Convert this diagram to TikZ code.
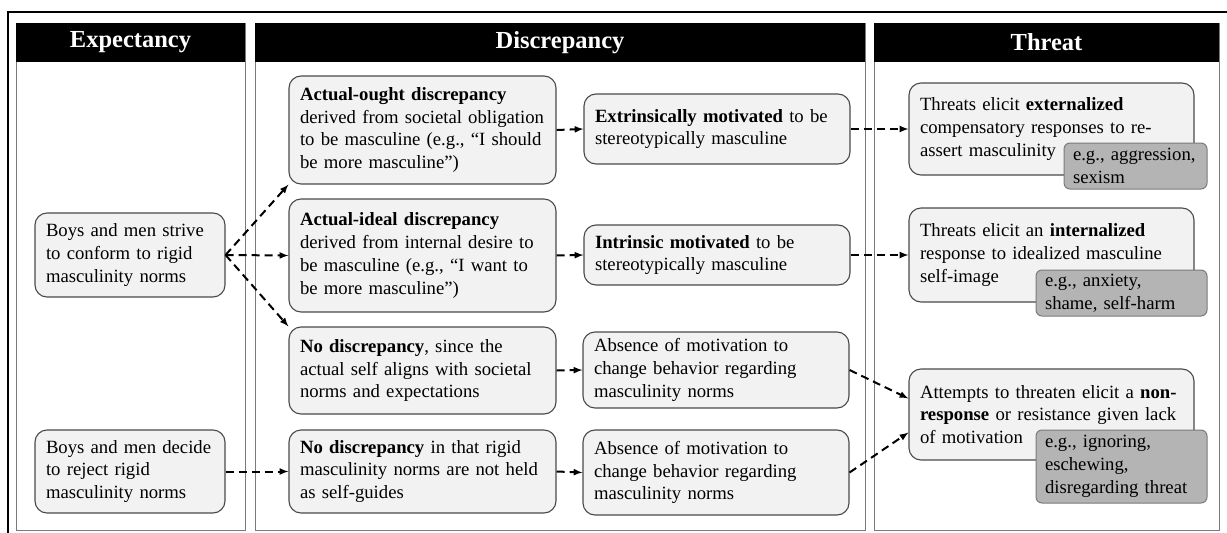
\documentclass[tikz,border=0pt]{standalone}
\usepackage{fontspec}
\setmainfont{Liberation Serif}
\usepackage{tikz}
\usepackage{xcolor}
\usetikzlibrary{arrows.meta}

\definecolor{boxfill}{HTML}{F2F2F2}
\definecolor{exfill}{HTML}{B4B4B4}
\definecolor{boxline}{HTML}{4A4A4A}
\definecolor{panelline}{HTML}{7A7A7A}

\begin{document}
\begin{tikzpicture}[x=1pt,y=-1pt,
    every node/.style={font=\fontsize{18.7}{22.7}\selectfont},
    box/.style={draw=boxline, line width=1.1pt, fill=boxfill, rounded corners=12pt,
        inner xsep=11pt, inner ysep=4pt, align=left},
    exbox/.style={draw=panelline, line width=1pt, fill=exfill, rounded corners=6pt,
        inner xsep=9pt, inner ysep=3pt, align=left},
    head/.style={fill=black, text=white, inner sep=0pt, minimum height=39pt,
        font=\fontsize{24.5}{30}\selectfont\bfseries},
    panel/.style={draw=panelline, line width=0.9pt},
    flow/.style={line width=2pt, dash pattern=on 8pt off 5pt, -latex}]
    \useasboundingbox (0,0) rectangle (1227,533);
    % outer frame
    \draw[line width=1.8pt] (8,533) -- (8,12) -- (1227,12);
    % panels
    \draw[panel] (16,23) rectangle (245,530);
    \draw[panel] (255,23) rectangle (865,530);
    \draw[panel] (874,23) rectangle (1219,530);
    \node[head, minimum width=229pt] (hexp) at (130.5,42.5) {Expectancy};
    \node[head, minimum width=610pt] (hdis) at (560,42.5) {Discrepancy};
    \node[head, minimum width=345pt] (hthr) at (1046.5,42.5) {Threat};
    % expectancy
    \node[box, text width=168pt, minimum height=84pt] (strive) at (130,255) {Boys and men strive\\to conform to rigid\\masculinity norms};
    \node[box, text width=168pt, minimum height=83pt] (reject) at (130,471.5) {Boys and men decide\\to reject rigid\\masculinity norms};
    % discrepancy
    \node[box, text width=245pt, minimum height=108pt] (ought) at (422.5,130) {\textbf{Actual-ought discrepancy}\\derived from societal obligation\\to be masculine (e.g., “I should\\be more masculine”)};
    \node[box, text width=245pt, minimum height=113pt] (ideal) at (422.5,255.5) {\textbf{Actual-ideal discrepancy}\\derived from internal desire to\\be masculine (e.g., “I want to\\be more masculine”)};
    \node[box, text width=245pt, minimum height=87pt] (nodisca) at (422.5,370.5) {\textbf{No discrepancy}, since the\\actual self aligns with societal\\norms and expectations};
    \node[box, text width=245pt, minimum height=83pt] (nodiscb) at (422.5,471.5) {\textbf{No discrepancy} in that rigid\\masculinity norms are not held\\as self-guides};
    \node[box, text width=244pt, minimum height=70pt] (extr) at (717,129) {\textbf{Extrinsically motivated} to be\\stereotypically masculine};
    \node[box, text width=244pt, minimum height=60pt] (intr) at (717,255) {\textbf{Intrinsic motivated} to be\\stereotypically masculine};
    \node[box, text width=244pt, minimum height=76pt] (absa) at (716,370) {Absence of motivation to\\change behavior regarding\\masculinity norms};
    \node[box, text width=244pt, minimum height=85pt] (absb) at (716,472.5) {Absence of motivation to\\change behavior regarding\\masculinity norms};
    % threat
    \node[box, text width=263pt, minimum height=92pt] (thra) at (1051.5,129) {Threats elicit \textbf{externalized}\\compensatory responses to re-\\assert masculinity};
    \node[box, text width=263pt, minimum height=94pt] (thrb) at (1051.5,255) {Threats elicit an \textbf{internalized}\\response to idealized masculine\\self-image};
    \node[box, text width=263pt, minimum height=91pt] (thrc) at (1051.5,414.5) {Attempts to threaten elicit a \textbf{non-}\\\textbf{response} or resistance given lack\\of motivation};
    \node[exbox, text width=125pt, minimum height=46pt] (exa) at (1135.5,166) {e.g., aggression,\\sexism};
    \node[exbox, text width=153pt, minimum height=46pt] (exb) at (1121.5,293) {e.g., anxiety,\\shame, self-harm};
    \node[exbox, text width=153pt, minimum height=73pt] (exc) at (1121.5,466.5) {e.g., ignoring,\\eschewing,\\disregarding threat};
    % connectors
    \draw[flow] (strive.east) -- (ought.south west);
    \draw[flow] (strive.east) -- (ideal.west);
    \draw[flow] (strive.east) -- (nodisca.north west);
    \draw[flow] (reject.east) -- (nodiscb.west);
    \draw[flow] (ought.east) -- (extr.west);
    \draw[flow] (ideal.east) -- (intr.west);
    \draw[flow] (nodisca.east) -- (absa.west);
    \draw[flow] (nodiscb.east) -- (absb.west);
    \draw[flow] (extr.east) -- (thra.west);
    \draw[flow] (intr.east) -- (thrb.west);
    \draw[flow] (absa.east) -- ([yshift=16pt]thrc.west);
    \draw[flow] (absb.east) -- ([yshift=-18pt]thrc.west);
\end{tikzpicture}
\end{document}
